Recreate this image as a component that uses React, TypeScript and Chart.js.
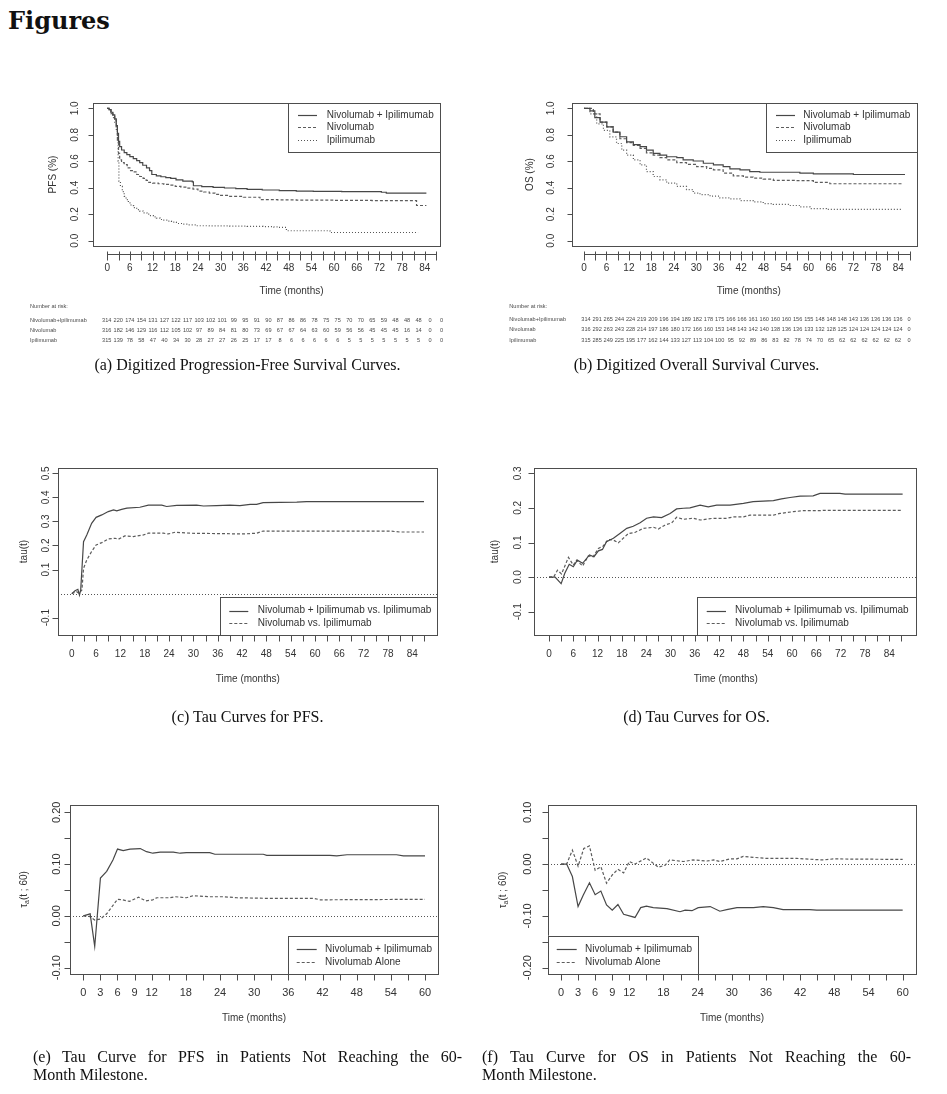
import React, { useEffect, useRef } from "react";
import { Chart, registerables } from "chart.js";

Chart.register(...registerables);

const PAGE_W = 947;
const PAGE_H = 1094;

// ---------- (a) Progression-free survival, Kaplan–Meier estimates ----------
const pfsComboT = [0, 0.5, 1, 1.5, 2, 2.4, 2.7, 3.0, 3.3, 3.8, 4.5, 5.2, 6, 6.9, 7.8, 8.6, 9.4, 10.4, 11.2, 11.8, 13, 14.2, 15.5, 16.8, 18.2, 20, 22.5, 22.8, 25, 28, 31, 34, 37, 41, 45.5, 50, 54.5, 62, 70, 72.5, 73.8, 84.4];
const pfsComboS = [1, 0.99, 0.97, 0.95, 0.92, 0.87, 0.81, 0.75, 0.71, 0.685, 0.665, 0.65, 0.635, 0.62, 0.605, 0.59, 0.57, 0.55, 0.53, 0.5, 0.49, 0.483, 0.477, 0.47, 0.46, 0.45, 0.445, 0.415, 0.408, 0.403, 0.398, 0.393, 0.388, 0.383, 0.378, 0.375, 0.372, 0.371, 0.37, 0.366, 0.36, 0.36];
const pfsNivoT = [0, 0.5, 1, 1.5, 2, 2.4, 2.7, 3.0, 3.3, 3.8, 4.5, 5.3, 6, 6.9, 7.8, 8.6, 9.5, 10.3, 11, 12, 13.5, 15, 16.5, 18, 19.5, 21, 22.7, 24, 25.5, 27, 28.5, 30, 32.4, 36, 39.5, 40.4, 45, 50, 60, 70, 81.3, 81.8, 84.4];
const pfsNivoS = [1, 0.99, 0.97, 0.95, 0.91, 0.85, 0.76, 0.66, 0.61, 0.59, 0.575, 0.55, 0.53, 0.52, 0.5, 0.485, 0.47, 0.455, 0.44, 0.435, 0.43, 0.425, 0.42, 0.41, 0.405, 0.397, 0.39, 0.375, 0.368, 0.36, 0.35, 0.342, 0.335, 0.328, 0.328, 0.31, 0.308, 0.306, 0.304, 0.303, 0.303, 0.266, 0.266];
const pfsIpiT = [0, 0.5, 1, 1.5, 2, 2.4, 2.7, 2.9, 3.1, 3.5, 4, 4.5, 5, 5.6, 6.3, 7, 7.8, 8.6, 9.5, 10.5, 11.3, 12.2, 13, 14, 14.8, 16, 17, 18.3, 20, 21.5, 23.6, 27, 32.4, 37, 41.2, 44, 45.2, 47.4, 52, 58.9, 70, 82.2];
const pfsIpiS = [1, 0.99, 0.96, 0.93, 0.89, 0.84, 0.78, 0.6, 0.45, 0.41, 0.37, 0.335, 0.31, 0.285, 0.265, 0.25, 0.235, 0.224, 0.21, 0.2, 0.19, 0.18, 0.17, 0.16, 0.155, 0.148, 0.14, 0.13, 0.125, 0.12, 0.113, 0.112, 0.11, 0.108, 0.107, 0.104, 0.1, 0.075, 0.075, 0.062, 0.062, 0.062];

// ---------- (b) Overall survival, Kaplan–Meier estimates ----------
const osComboT = [0, 1.6, 2.9, 4.3, 6.1, 7.8, 9.6, 11.4, 13.2, 15, 16.7, 18.5, 20.3, 22.1, 24.8, 26.5, 29.2, 31.9, 34.6, 37.2, 39, 41.7, 44.3, 47, 52.4, 57.7, 61.3, 65.7, 72, 85.8];
const osComboS = [1, 0.98, 0.93, 0.895, 0.86, 0.82, 0.785, 0.746, 0.726, 0.71, 0.684, 0.66, 0.647, 0.634, 0.627, 0.61, 0.602, 0.585, 0.572, 0.56, 0.542, 0.535, 0.522, 0.517, 0.517, 0.51, 0.505, 0.505, 0.5, 0.5];
const osNivoT = [0, 2.5, 4.3, 6.1, 7.8, 9.6, 11.4, 13.2, 15, 16.7, 18.5, 20.3, 22.1, 24.8, 27.4, 30.1, 32.8, 34.6, 37.2, 39.9, 42.6, 45.2, 47.9, 50.6, 56.8, 61.3, 65.7, 84.9];
const osNivoS = [1, 0.958, 0.895, 0.86, 0.82, 0.77, 0.74, 0.72, 0.697, 0.664, 0.647, 0.627, 0.61, 0.59, 0.577, 0.56, 0.547, 0.535, 0.51, 0.49, 0.48, 0.473, 0.465, 0.455, 0.453, 0.44, 0.43, 0.428];
const osIpiT = [0, 1.6, 3.4, 5.2, 6.9, 8.7, 10.1, 11.4, 13.2, 15, 16.7, 18.5, 20.3, 22.1, 24.8, 27.4, 29.2, 31, 33.7, 36.3, 39, 41.7, 45.2, 47.9, 50.6, 55, 57.7, 60.4, 64.8, 84.9];
const osIpiS = [1, 0.958, 0.883, 0.833, 0.784, 0.734, 0.684, 0.647, 0.61, 0.572, 0.522, 0.485, 0.46, 0.435, 0.41, 0.386, 0.36, 0.348, 0.336, 0.323, 0.316, 0.303, 0.293, 0.28, 0.274, 0.266, 0.255, 0.243, 0.236, 0.236];

// ---------- (c) tau(t), PFS ----------
const tauPfsT = [0, 0.8, 1.5, 1.9, 2.2, 2.9, 3.7, 4.9, 6, 7.4, 9, 10.3, 11.1, 12.3, 13.6, 16.8, 18.9, 22.2, 23.4, 25.9, 30.8, 32.5, 35.7, 39, 41.5, 44, 45.6, 47.2, 55.5, 57.9, 86.9];
const tauPfsCombo = [0, 0.012, 0.018, -0.006, 0.015, 0.216, 0.244, 0.292, 0.317, 0.327, 0.341, 0.348, 0.344, 0.35, 0.355, 0.359, 0.368, 0.368, 0.362, 0.367, 0.368, 0.364, 0.366, 0.368, 0.366, 0.371, 0.371, 0.378, 0.38, 0.382, 0.382];
const tauPfsNivoT = [0, 1.2, 1.8, 2.5, 2.9, 3.7, 4.9, 6, 7.4, 9, 10.7, 11.5, 13.1, 15.2, 17.7, 18.9, 22.6, 23.8, 25.5, 29.2, 42.3, 45.6, 47.2, 78.5, 80.9, 86.9];
const tauPfsNivo = [0, 0.008, 0.001, 0.015, 0.105, 0.14, 0.175, 0.202, 0.212, 0.227, 0.23, 0.226, 0.24, 0.237, 0.244, 0.251, 0.251, 0.248, 0.255, 0.251, 0.248, 0.251, 0.26, 0.26, 0.256, 0.256];

// ---------- (d) tau(t), OS ----------
const tauOsComboT = [0, 1.5, 3, 3.9, 5, 6, 7, 8.3, 10, 11.1, 12.2, 13.2, 14.2, 15.9, 17.5, 19.2, 20.8, 22.5, 24.1, 25.8, 27.8, 29.9, 31.5, 33.2, 34.8, 37.3, 39.3, 41.4, 44.7, 48, 50.4, 55.4, 57.4, 59.5, 62, 65.2, 66.9, 71.8, 73.1, 87.3];
const tauOsCombo = [0, 0, -0.019, 0.011, 0.037, 0.03, 0.049, 0.04, 0.064, 0.059, 0.076, 0.08, 0.102, 0.112, 0.126, 0.141, 0.147, 0.157, 0.17, 0.174, 0.172, 0.184, 0.197, 0.199, 0.2, 0.208, 0.203, 0.208, 0.208, 0.213, 0.218, 0.221, 0.226, 0.23, 0.234, 0.235, 0.242, 0.242, 0.24, 0.24];
const tauOsNivoT = [0, 1.2, 2.1, 3.1, 4.8, 6, 6.8, 8.3, 9.7, 10.9, 12.2, 13.4, 14.6, 15.9, 17.1, 18.3, 19.6, 21.2, 23.3, 25.8, 27, 28.6, 30.3, 31.5, 33.2, 35.6, 37.3, 40.6, 43.9, 45.5, 48, 49.6, 55.4, 57, 60.3, 62.8, 66.9, 67.7, 87.3];
const tauOsNivo = [0, 0.001, 0.02, 0.009, 0.057, 0.035, 0.049, 0.032, 0.061, 0.059, 0.083, 0.09, 0.109, 0.107, 0.099, 0.112, 0.126, 0.129, 0.141, 0.144, 0.139, 0.15, 0.157, 0.173, 0.167, 0.17, 0.165, 0.17, 0.17, 0.174, 0.174, 0.179, 0.179, 0.184, 0.189, 0.192, 0.192, 0.193, 0.193];

// ---------- (e) tau_a(t; 60), PFS ----------
const tauaPfsComboT = [0, 0.6, 1.2, 2, 3, 4.1, 5.2, 6, 7, 8.2, 10, 11.1, 12.2, 13.5, 15.8, 17, 18.1, 22.2, 23.1, 31.6, 32.2, 43.3, 44.5, 46.3, 55, 56.2, 60];
const tauaPfsCombo = [0, 0.002, 0.004, -0.059, 0.073, 0.086, 0.108, 0.129, 0.126, 0.129, 0.13, 0.124, 0.121, 0.123, 0.123, 0.121, 0.122, 0.122, 0.119, 0.119, 0.117, 0.117, 0.116, 0.118, 0.118, 0.116, 0.116];
const tauaPfsNivoT = [0, 1.1, 2, 3, 4.1, 6, 6.9, 8.1, 9.7, 11, 12.2, 12.9, 15.2, 16.1, 18.1, 19.3, 22.2, 24.6, 27, 31.6, 40.4, 41.6, 60];
const tauaPfsNivo = [0, -0.001, -0.008, -0.006, 0.004, 0.032, 0.031, 0.028, 0.036, 0.029, 0.031, 0.035, 0.035, 0.037, 0.035, 0.039, 0.037, 0.037, 0.035, 0.034, 0.034, 0.031, 0.032];

// ---------- (f) tau_a(t; 60), OS ----------
const tauaOsComboT = [0, 1, 2, 3, 3.9, 5, 6, 7, 8, 9, 10, 11, 13, 14, 15, 16.2, 18.6, 20.9, 21.8, 23, 24.1, 26.2, 27.9, 29.1, 30.9, 33.8, 35.5, 37.3, 39, 43.7, 44.9, 60];
const tauaOsCombo = [0, 0, -0.024, -0.082, -0.06, -0.036, -0.059, -0.052, -0.079, -0.089, -0.078, -0.097, -0.103, -0.084, -0.081, -0.084, -0.086, -0.092, -0.089, -0.09, -0.084, -0.082, -0.091, -0.088, -0.084, -0.084, -0.082, -0.084, -0.088, -0.088, -0.089, -0.089];
const tauaOsNivoT = [0, 1, 2, 3, 4, 5, 6, 7, 8, 9, 10, 11, 12, 13, 15, 17.1, 18.3, 19.1, 21.5, 23.2, 25.6, 26.8, 27.9, 29.7, 30.9, 32, 33.8, 36.1, 41.4, 44.3, 46.1, 47.8, 60];
const tauaOsNivo = [0, 0, 0.027, -0.004, 0.03, 0.035, -0.012, -0.005, -0.037, -0.021, -0.01, -0.017, 0.005, 0, 0.012, -0.006, -0.002, 0.008, 0.005, 0.008, 0.006, 0.008, 0.005, 0.01, 0.01, 0.015, 0.013, 0.011, 0.011, 0.009, 0.008, 0.01, 0.009];

// ---------- Numbers at risk ----------
const riskGroups = ["Nivolumab+Ipilimumab", "Nivolumab", "Ipilimumab"];
const pfsRiskCombo = [314, 220, 174, 154, 131, 127, 122, 117, 103, 102, 101, 99, 95, 91, 90, 87, 86, 86, 78, 75, 75, 70, 70, 65, 59, 48, 48, 48, 0, 0];
const pfsRiskNivo = [316, 182, 146, 129, 116, 112, 105, 102, 97, 89, 84, 81, 80, 73, 69, 67, 67, 64, 63, 60, 59, 56, 56, 45, 45, 45, 16, 14, 0, 0];
const pfsRiskIpi = [315, 139, 78, 58, 47, 40, 34, 30, 28, 27, 27, 26, 25, 17, 17, 8, 6, 6, 6, 6, 6, 5, 5, 5, 5, 5, 5, 5, 0, 0];
const osRiskCombo = [314, 291, 265, 244, 224, 219, 209, 196, 194, 189, 182, 178, 175, 166, 166, 161, 160, 160, 160, 156, 155, 148, 148, 148, 143, 136, 136, 136, 136, 0];
const osRiskNivo = [316, 292, 263, 243, 228, 214, 197, 186, 180, 172, 166, 160, 153, 148, 143, 142, 140, 138, 136, 136, 133, 132, 128, 125, 124, 124, 124, 124, 124, 0];
const osRiskIpi = [315, 285, 249, 225, 195, 177, 162, 144, 133, 127, 113, 104, 100, 95, 92, 89, 86, 83, 82, 78, 74, 70, 65, 62, 62, 62, 62, 62, 62, 0];

// ---------- Axis ticks ----------
const monthTicksLong = [0, 3, 6, 9, 12, 15, 18, 21, 24, 27, 30, 33, 36, 39, 42, 45, 48, 51, 54, 57, 60, 63, 66, 69, 72, 75, 78, 81, 84, 87];
const monthLabelsLong = [0, 6, 12, 18, 24, 30, 36, 42, 48, 54, 60, 66, 72, 78, 84];
const monthTicksShort = [0, 3, 6, 9, 12, 15, 18, 21, 24, 27, 30, 33, 36, 39, 42, 45, 48, 51, 54, 57, 60];
const monthLabelsShort = [0, 3, 6, 9, 12, 18, 24, 30, 36, 42, 48, 54, 60];
const survTicks = [0, 0.2, 0.4, 0.6, 0.8, 1.0];
const tauPfsTicks = [-0.1, 0.1, 0.2, 0.3, 0.4, 0.5];
const tauOsTicks = [-0.1, 0, 0.1, 0.2, 0.3];
const tauaPfsTicks = [-0.1, -0.05, 0, 0.05, 0.1, 0.15, 0.2];
const tauaPfsLabels = [-0.1, 0, 0.1, 0.2];
const tauaOsTicks = [-0.2, -0.15, -0.1, -0.05, 0, 0.05, 0.1];
const tauaOsLabels = [-0.2, -0.1, 0, 0.1];

const LEG_COMBO = "Nivolumab + Ipilimumab";
const LEG_NIVO = "Nivolumab";
const LEG_IPI = "Ipilimumab";
const LEG_COMBO_VS = "Nivolumab + Ipilimumab vs. Ipilimumab";
const LEG_NIVO_VS = "Nivolumab vs. Ipilimumab";
const LEG_NIVO_ALONE = "Nivolumab Alone";

// ---------- styles ----------
const SANS = '"Liberation Sans", Arial, Helvetica, sans-serif';
const SERIF = '"Liberation Serif", "Times New Roman", serif';
const INK = "#333333";
const FRAME = "#4d4d4d";
const SOLID: number[] = [];
const DASHED = [3, 2];
const DOTTED = [1, 2];
const LINE_COLORS = { solid: "#474747", dashed: "#5c5c5c", dotted: "#555555" };

type Series = { t: number[]; v: number[]; dash: number[]; color: string; stepped: boolean };
type LegendRow = { y: number; text: string; dash: number[]; color: string };
type Risk = { headX: number; headY: number; rowsY: number[]; numX0: number; numDx: number; counts: number[][] };
type PanelSpec = {
  id: string;
  box: { l: number; t: number; r: number; b: number };
  xMin: number; xMax: number; yMin: number; yMax: number;
  xTicks: number[]; xLabels: number[];
  xAxisY: number; xTickUp: number; xTickDown: number; xAxisLine: boolean;
  xLabelY: number; xTitle: { x: number; y: number; text: string };
  tickFont: string; titleFont: string;
  yTicks: number[]; yLabels: number[]; yDigits: number; yLabelX: number; yTickLen: number;
  yTitle: { x: number; y: number; text: string; tau?: boolean };
  refZero: boolean;
  legend: { l: number; t: number; r: number; b: number; x1: number; x2: number; tx: number; rows: LegendRow[] };
  risk?: Risk;
  series: Series[];
};

const crisp = (v: number) => Math.round(v) + 0.5;

function makeFramePlugin(p: PanelSpec) {
  return {
    id: "rframe_" + p.id,
    beforeDatasetsDraw(chart: any) {
      if (!p.refZero) return;
      const ctx = chart.ctx;
      const ca = chart.chartArea;
      const y0 = crisp(chart.scales.y.getPixelForValue(0));
      ctx.save();
      ctx.strokeStyle = "#555555";
      ctx.lineWidth = 1;
      ctx.setLineDash([1, 2]);
      ctx.beginPath();
      ctx.moveTo(ca.left, y0);
      ctx.lineTo(ca.right, y0);
      ctx.stroke();
      ctx.restore();
    },
    afterDatasetsDraw(chart: any) {
      const ctx = chart.ctx;
      const ca = chart.chartArea;
      const xs = chart.scales.x;
      const ys = chart.scales.y;
      ctx.save();
      ctx.setLineDash([]);
      ctx.lineWidth = 1;
      ctx.strokeStyle = FRAME;

      // plot frame
      const L = crisp(ca.left), R = crisp(ca.right), T = crisp(ca.top), B = crisp(ca.bottom);
      ctx.strokeRect(L, T, R - L, B - T);

      // x axis
      const ax = crisp(p.xAxisY);
      ctx.beginPath();
      if (p.xAxisLine) {
        ctx.moveTo(crisp(xs.getPixelForValue(p.xTicks[0])), ax);
        ctx.lineTo(crisp(xs.getPixelForValue(p.xTicks[p.xTicks.length - 1])), ax);
      }
      for (const t of p.xTicks) {
        const x = crisp(xs.getPixelForValue(t));
        ctx.moveTo(x, ax - p.xTickUp);
        ctx.lineTo(x, ax + p.xTickDown);
      }
      // y axis ticks
      for (const v of p.yTicks) {
        const y = crisp(ys.getPixelForValue(v));
        ctx.moveTo(L, y);
        ctx.lineTo(L - p.yTickLen, y);
      }
      ctx.stroke();

      ctx.fillStyle = INK;
      ctx.font = p.tickFont;
      ctx.textAlign = "center";
      ctx.textBaseline = "middle";
      for (const t of p.xLabels) {
        ctx.fillText(String(t), xs.getPixelForValue(t), p.xLabelY);
      }
      for (const v of p.yLabels) {
        const y = ys.getPixelForValue(v);
        ctx.save();
        ctx.translate(p.yLabelX, y);
        ctx.rotate(-Math.PI / 2);
        ctx.fillText(v.toFixed(p.yDigits), 0, 0);
        ctx.restore();
      }

      // axis titles
      ctx.font = p.titleFont;
      ctx.fillText(p.xTitle.text, p.xTitle.x, p.xTitle.y);
      ctx.save();
      ctx.translate(p.yTitle.x, p.yTitle.y);
      ctx.rotate(-Math.PI / 2);
      if (p.yTitle.tau) {
        const big = p.titleFont;
        const small = p.titleFont.replace(/^(\d+(\.\d+)?)px/, "7px");
        ctx.font = big;
        const w1 = ctx.measureText("\u03c4").width;
        const w3 = ctx.measureText("(t ; 60)").width;
        ctx.font = small;
        const w2 = ctx.measureText("a").width;
        let x = -(w1 + w2 + w3) / 2;
        ctx.textAlign = "left";
        ctx.font = big;
        ctx.fillText("\u03c4", x, 0);
        x += w1;
        ctx.font = small;
        ctx.fillText("a", x, 3);
        x += w2;
        ctx.font = big;
        ctx.fillText("(t ; 60)", x, 0);
      } else {
        ctx.fillText(p.yTitle.text, 0, 0);
      }
      ctx.restore();

      // legend
      const lg = p.legend;
      ctx.fillStyle = "#ffffff";
      ctx.fillRect(lg.l, lg.t, lg.r - lg.l, lg.b - lg.t);
      ctx.strokeStyle = FRAME;
      ctx.strokeRect(crisp(lg.l), crisp(lg.t), Math.round(lg.r) - Math.round(lg.l), Math.round(lg.b) - Math.round(lg.t));
      ctx.font = `10px ${SANS}`;
      ctx.textAlign = "left";
      for (const row of lg.rows) {
        ctx.strokeStyle = row.color;
        ctx.lineWidth = 1.2;
        ctx.setLineDash(row.dash);
        ctx.beginPath();
        ctx.moveTo(lg.x1, crisp(row.y));
        ctx.lineTo(lg.x2, crisp(row.y));
        ctx.stroke();
        ctx.fillStyle = INK;
        ctx.fillText(row.text, lg.tx, row.y);
      }
      ctx.setLineDash([]);

      // numbers at risk
      if (p.risk) {
        const rk = p.risk;
        ctx.fillStyle = "#4a4a4a";
        ctx.font = `5.6px ${SANS}`;
        ctx.textAlign = "left";
        ctx.fillText("Number at risk:", rk.headX, rk.headY);
        rk.counts.forEach((row, r) => {
          ctx.textAlign = "left";
          ctx.fillText(riskGroups[r], rk.headX, rk.rowsY[r]);
          ctx.textAlign = "center";
          row.forEach((n, i) => ctx.fillText(String(n), rk.numX0 + i * rk.numDx, rk.rowsY[r]));
        });
      }
      ctx.restore();
    },
  };
}

const solid = (t: number[], v: number[], stepped: boolean): Series => ({ t, v, dash: SOLID, color: LINE_COLORS.solid, stepped });
const dashed = (t: number[], v: number[], stepped: boolean): Series => ({ t, v, dash: DASHED, color: LINE_COLORS.dashed, stepped });
const dotted = (t: number[], v: number[], stepped: boolean): Series => ({ t, v, dash: DOTTED, color: LINE_COLORS.dotted, stepped });

const threeRows = (ys: number[]): LegendRow[] => [
  { y: ys[0], text: LEG_COMBO, dash: SOLID, color: LINE_COLORS.solid },
  { y: ys[1], text: LEG_NIVO, dash: DASHED, color: LINE_COLORS.dashed },
  { y: ys[2], text: LEG_IPI, dash: DOTTED, color: LINE_COLORS.dotted },
];
const twoRows = (ys: number[], a: string, b: string): LegendRow[] => [
  { y: ys[0], text: a, dash: SOLID, color: LINE_COLORS.solid },
  { y: ys[1], text: b, dash: DASHED, color: LINE_COLORS.dashed },
];

const F10 = `10px ${SANS}`;
const F11 = `11px ${SANS}`;

const panels: PanelSpec[] = [
  {
    id: "a",
    box: { l: 93, t: 103, r: 440, b: 246 },
    xMin: -3.75, xMax: 88, yMin: -0.04, yMax: 1.04,
    xTicks: monthTicksLong, xLabels: monthLabelsLong,
    xAxisY: 254, xTickUp: 3, xTickDown: 6, xAxisLine: true,
    xLabelY: 268.5, xTitle: { x: 291.5, y: 291.7, text: "Time (months)" },
    tickFont: F10, titleFont: F10,
    yTicks: survTicks, yLabels: survTicks, yDigits: 1, yLabelX: 75, yTickLen: 5,
    yTitle: { x: 53.3, y: 174.5, text: "PFS (%)" },
    refZero: false,
    legend: { l: 288, t: 103, r: 440, b: 152, x1: 298, x2: 317, tx: 326.7, rows: threeRows([115, 127.3, 140]) },
    risk: { headX: 30, headY: 306.7, rowsY: [320, 330, 340], numX0: 106.7, numDx: 11.55, counts: [pfsRiskCombo, pfsRiskNivo, pfsRiskIpi] },
    series: [solid(pfsComboT, pfsComboS, true), dashed(pfsNivoT, pfsNivoS, true), dotted(pfsIpiT, pfsIpiS, true)],
  },
  {
    id: "b",
    box: { l: 572, t: 103, r: 917, b: 246 },
    xMin: -3.2, xMax: 89, yMin: -0.04, yMax: 1.04,
    xTicks: monthTicksLong, xLabels: monthLabelsLong,
    xAxisY: 254, xTickUp: 3, xTickDown: 6, xAxisLine: true,
    xLabelY: 268.5, xTitle: { x: 748.7, y: 291.7, text: "Time (months)" },
    tickFont: F10, titleFont: F10,
    yTicks: survTicks, yLabels: survTicks, yDigits: 1, yLabelX: 551.7, yTickLen: 5,
    yTitle: { x: 530, y: 174.5, text: "OS (%)" },
    refZero: false,
    legend: { l: 766, t: 103, r: 917, b: 152, x1: 776, x2: 795, tx: 803.3, rows: threeRows([115, 127.3, 140]) },
    risk: { headX: 509.3, headY: 306.7, rowsY: [319.5, 329.5, 340], numX0: 586, numDx: 11.14, counts: [osRiskCombo, osRiskNivo, osRiskIpi] },
    series: [solid(osComboT, osComboS, true), dashed(osNivoT, osNivoS, true), dotted(osIpiT, osIpiS, true)],
  },
  {
    id: "c",
    box: { l: 58, t: 468, r: 437, b: 635 },
    xMin: -3.4, xMax: 90.1, yMin: -0.172, yMax: 0.522,
    xTicks: monthTicksLong, xLabels: monthLabelsLong,
    xAxisY: 635, xTickUp: 0, xTickDown: 6, xAxisLine: true,
    xLabelY: 654.3, xTitle: { x: 247.8, y: 679.3, text: "Time (months)" },
    tickFont: F10, titleFont: F10,
    yTicks: tauPfsTicks, yLabels: tauPfsTicks, yDigits: 1, yLabelX: 46.7, yTickLen: 6,
    yTitle: { x: 24, y: 551.5, text: "tau(t)" },
    refZero: true,
    legend: { l: 220, t: 597.3, r: 437, b: 635, x1: 229.3, x2: 248.3, tx: 257.7, rows: twoRows([610.7, 623.3], LEG_COMBO_VS, LEG_NIVO_VS) },
    series: [solid(tauPfsT, tauPfsCombo, false), dashed(tauPfsNivoT, tauPfsNivo, false)],
  },
  {
    id: "d",
    box: { l: 534, t: 468, r: 916, b: 635 },
    xMin: -3.7, xMax: 90.6, yMin: -0.1673, yMax: 0.3153,
    xTicks: monthTicksLong, xLabels: monthLabelsLong,
    xAxisY: 635, xTickUp: 0, xTickDown: 6, xAxisLine: true,
    xLabelY: 654.3, xTitle: { x: 725.8, y: 679.3, text: "Time (months)" },
    tickFont: F10, titleFont: F10,
    yTicks: tauOsTicks, yLabels: tauOsTicks, yDigits: 1, yLabelX: 518.3, yTickLen: 6,
    yTitle: { x: 495, y: 551.5, text: "tau(t)" },
    refZero: true,
    legend: { l: 697.3, t: 597.3, r: 916, b: 635, x1: 706.7, x2: 726, tx: 735, rows: twoRows([610.7, 623.3], LEG_COMBO_VS, LEG_NIVO_VS) },
    series: [solid(tauOsComboT, tauOsCombo, false), dashed(tauOsNivoT, tauOsNivo, false)],
  },
  {
    id: "e",
    box: { l: 70, t: 805, r: 438, b: 974 },
    xMin: -2.34, xMax: 62.28, yMin: -0.1122, yMax: 0.2141,
    xTicks: monthTicksShort, xLabels: monthLabelsShort,
    xAxisY: 974, xTickUp: 0, xTickDown: 6, xAxisLine: true,
    xLabelY: 993.3, xTitle: { x: 254, y: 1018.3, text: "Time (months)" },
    tickFont: F11, titleFont: F10,
    yTicks: tauaPfsTicks, yLabels: tauaPfsLabels, yDigits: 2, yLabelX: 57.3, yTickLen: 6,
    yTitle: { x: 24, y: 889.5, text: "", tau: true },
    refZero: true,
    legend: { l: 287.7, t: 935.7, r: 438, b: 974, x1: 296.7, x2: 316.7, tx: 325, rows: twoRows([949.3, 962.3], LEG_COMBO, LEG_NIVO_ALONE) },
    series: [solid(tauaPfsComboT, tauaPfsCombo, false), dashed(tauaPfsNivoT, tauaPfsNivo, false)],
  },
  {
    id: "f",
    box: { l: 548, t: 805, r: 916, b: 974 },
    xMin: -2.28, xMax: 62.34, yMin: -0.2122, yMax: 0.1141,
    xTicks: monthTicksShort, xLabels: monthLabelsShort,
    xAxisY: 974, xTickUp: 0, xTickDown: 6, xAxisLine: true,
    xLabelY: 993.3, xTitle: { x: 732, y: 1018.3, text: "Time (months)" },
    tickFont: F11, titleFont: F10,
    yTicks: tauaOsTicks, yLabels: tauaOsLabels, yDigits: 2, yLabelX: 528.3, yTickLen: 6,
    yTitle: { x: 503.3, y: 890, text: "", tau: true },
    refZero: true,
    legend: { l: 548, t: 935.7, r: 698.3, b: 974, x1: 556.7, x2: 576.7, tx: 585, rows: twoRows([949.3, 962.3], LEG_COMBO, LEG_NIVO_ALONE) },
    series: [solid(tauaOsComboT, tauaOsCombo, false), dashed(tauaOsNivoT, tauaOsNivo, false)],
  },
];

function PanelChart({ spec }: { spec: PanelSpec }) {
  const ref = useRef<HTMLCanvasElement>(null);
  useEffect(() => {
    const canvas = ref.current;
    if (!canvas) return;
    const chart = new Chart(canvas, {
      type: "line",
      data: {
        datasets: spec.series.map((s) => ({
          data: s.t.map((t, i) => ({ x: t, y: s.v[i] })),
          borderColor: s.color,
          borderWidth: 1.2,
          borderDash: s.dash,
          pointRadius: 0,
          fill: false,
          tension: 0,
          stepped: s.stepped ? "before" : false,
        })),
      },
      options: {
        responsive: false,
        animation: false,
        events: [],
        layout: {
          padding: { left: spec.box.l, top: spec.box.t, right: PAGE_W - spec.box.r, bottom: PAGE_H - spec.box.b },
        },
        scales: {
          x: { type: "linear", min: spec.xMin, max: spec.xMax, display: false },
          y: { type: "linear", min: spec.yMin, max: spec.yMax, display: false },
        },
        plugins: { legend: { display: false }, tooltip: { enabled: false } },
      },
      plugins: [makeFramePlugin(spec)],
    } as any);
    return () => chart.destroy();
  }, [spec]);
  return (
    <canvas
      ref={ref}
      width={PAGE_W}
      height={PAGE_H}
      style={{ position: "absolute", left: 0, top: 0, width: PAGE_W, height: PAGE_H }}
    />
  );
}

const capBase: React.CSSProperties = {
  position: "absolute",
  font: `16px ${SERIF}`,
  lineHeight: "16px",
  color: "#111",
  whiteSpace: "nowrap",
};

function Caption({ left, top, text }: { left: number; top: number; text: string }) {
  return <div style={{ ...capBase, left, top, width: 429, textAlign: "center" }}>{text}</div>;
}

function TwoLineCaption({ left, top, first, second }: { left: number; top: number; first: string; second: string }) {
  return (
    <>
      <div style={{ ...capBase, left, top, width: 429, textAlign: "justify", textAlignLast: "justify" as any }}>{first}</div>
      <div style={{ ...capBase, left, top: top + 18 }}>{second}</div>
    </>
  );
}

export default function App() {
  return (
    <div style={{ position: "absolute", left: 0, top: 0, width: PAGE_W, height: PAGE_H, background: "#fff", overflow: "hidden" }}>
      <div style={{ position: "absolute", left: 8, top: 9, font: `bold 24px "DejaVu Serif", serif`, lineHeight: "24px", color: "#111" }}>
        Figures
      </div>
      {panels.map((p) => (
        <PanelChart key={p.id} spec={p} />
      ))}
      <Caption left={33} top={357} text="(a) Digitized Progression-Free Survival Curves." />
      <Caption left={482} top={357} text="(b) Digitized Overall Survival Curves." />
      <Caption left={33} top={709} text="(c) Tau Curves for PFS." />
      <Caption left={482} top={709} text="(d) Tau Curves for OS." />
      <TwoLineCaption left={33} top={1049} first="(e) Tau Curve for PFS in Patients Not Reaching the 60-" second="Month Milestone." />
      <TwoLineCaption left={482} top={1049} first="(f) Tau Curve for OS in Patients Not Reaching the 60-" second="Month Milestone." />
    </div>
  );
}
